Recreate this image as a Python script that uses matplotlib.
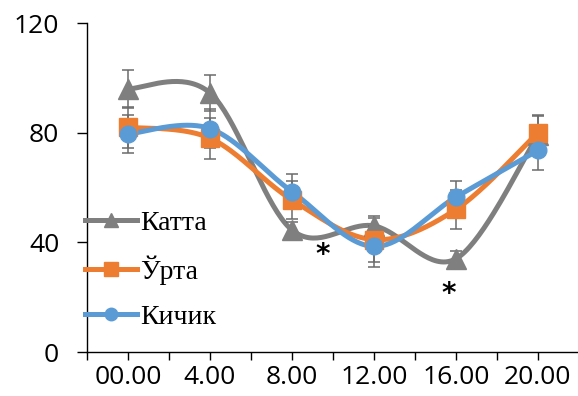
import numpy as np
import matplotlib
matplotlib.use("Agg")
import matplotlib.pyplot as plt

# time of day categories
times = ["00.00", "4.00", "8.00", "12.00", "16.00", "20.00"]

katta = [96, 94.5, 44.5, 46, 34, 79]
katta_err = [7, 6.5, 3, 3.5, 3, 7]

urta = [82, 78, 55.5, 41, 52, 80]
urta_err = [7.5, 7.5, 7, 8, 7, 6.5]

kichik = [79.5, 81.5, 58.5, 38.5, 56.5, 73.5]
kichik_err = [7, 7, 6.5, 7.5, 6, 7]

# significance marks (x position between categories, y value)
star_x = [2.37, 3.91]
star_y = [35.5, 21.0]


def smooth(x, y, n=40):
    # Bezier smoothing through every point, like office charts do
    x = np.asarray(x, float)
    y = np.asarray(y, float)
    m = len(x)
    xs, ys = [], []
    for i in range(m - 1):
        i0 = max(i - 1, 0)
        i3 = min(i + 2, m - 1)
        p0 = np.array([x[i], y[i]])
        p3 = np.array([x[i + 1], y[i + 1]])
        c1 = p0 + (np.array([x[i + 1], y[i + 1]]) - np.array([x[i0], y[i0]])) / 6
        c2 = p3 - (np.array([x[i3], y[i3]]) - np.array([x[i], y[i]])) / 6
        t = np.linspace(0, 1, n)[:, None]
        pts = ((1 - t) ** 3 * p0 + 3 * (1 - t) ** 2 * t * c1
               + 3 * (1 - t) * t ** 2 * c2 + t ** 3 * p3)
        xs.extend(pts[:, 0])
        ys.extend(pts[:, 1])
    return np.array(xs), np.array(ys)


fig = plt.figure(figsize=(5.78, 3.96), dpi=100)
ax = fig.add_axes([0.1505, 0.1111, 0.851, 0.8308])

x = np.arange(len(times))
series = [
    ("Катта", katta, katta_err, "#7f7f7f", "^", 14),
    ("Ўрта", urta, urta_err, "#ed7d31", "s", 13),
    ("Кичик", kichik, kichik_err, "#5b9bd5", "o", 12),
]

handles = []
for k, (name, vals, err, col, mk, ms) in enumerate(series):
    sx, sy = smooth(x, vals)
    ax.plot(sx, sy, color=col, lw=3.6, zorder=2 + k, solid_capstyle="round")
    ax.errorbar(x, vals, yerr=err, fmt="none", ecolor="#6b6b6b",
                elinewidth=1.1, capsize=4.3, capthick=1.1, zorder=5)
    ax.plot(x, vals, ls="none", marker=mk, ms=ms, color=col,
            mec=col, zorder=6 + k)
    h, = ax.plot([], [], color=col, lw=3.6, marker=mk, ms=ms * 0.75, mec=col)
    handles.append(h)

for sxp, syp in zip(star_x, star_y):
    ax.text(sxp, syp, "*", fontsize=20, ha="center", va="center",
            color="black", fontweight="bold")

ax.set_xlim(-0.5, 5.5)
ax.set_ylim(0, 120)
ax.set_yticks([0, 40, 80, 120])
ax.set_xticks(x, labels=times)
ax.set_xticks(np.arange(-0.5, 5.51, 1.0), minor=True)
ax.tick_params(axis="x", which="both", length=6, width=1, direction="out",
               pad=3, labelsize=19)
ax.tick_params(axis="y", length=7, width=1, pad=13, labelsize=19)
for lab in ax.get_xticklabels() + ax.get_yticklabels():
    lab.set_fontfamily("Open Sans")

ax.spines["top"].set_visible(False)
ax.spines["right"].set_visible(False)
ax.spines["left"].set_linewidth(1)
ax.spines["bottom"].set_linewidth(1)

ax.legend(handles, [s[0] for s in series], loc="upper left",
          bbox_to_anchor=(-0.005, 0.43), frameon=False,
          prop={"family": "Liberation Serif", "size": 20},
          handlelength=1.9, handletextpad=0.1, labelspacing=0.7,
          borderaxespad=0, borderpad=0)

fig.savefig("out.png", dpi=100)
